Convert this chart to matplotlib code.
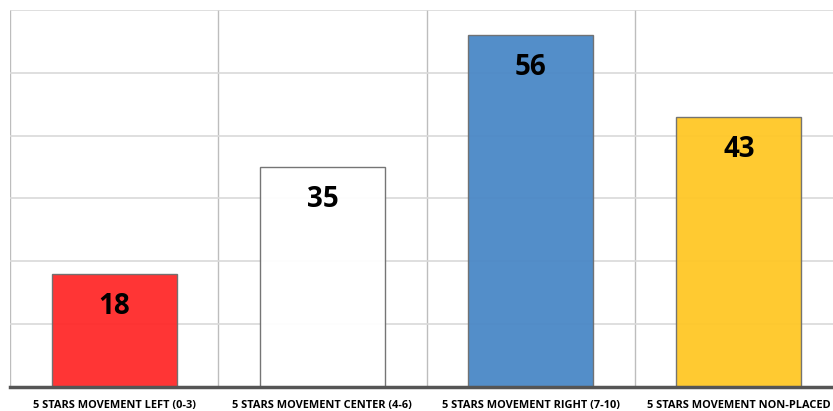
import matplotlib.pyplot as plt
import numpy as np

categories = ["5 STARS MOVEMENT LEFT (0-3)", "5 STARS MOVEMENT CENTER (4-6)",
              "5 STARS MOVEMENT RIGHT (7-10)", "5 STARS MOVEMENT NON-PLACED"]
values = [18, 35, 56, 43]
colors = ["#ff2a2a", "#ffffff", "#4a88c6", "#ffc726"]

plt.rcParams['font.family'] = ['Open Sans', 'DejaVu Sans']

fig = plt.figure(figsize=(8.33, 4.11), dpi=100)
ax = fig.add_axes([10 / 833, 24 / 411, 833 / 833, 377 / 411])

x = np.arange(len(categories))
bars = ax.bar(x, values, width=0.6, color=colors, alpha=0.95,
              edgecolor="#6e6e6e", linewidth=1.0, zorder=3)

for b, v in zip(bars, values):
    ax.text(b.get_x() + b.get_width() / 2, v - 5.2, str(v), ha='center', va='center',
            fontsize=20, fontweight='bold', color='black', zorder=4)

ax.set_xlim(-0.5, 3.5)
ax.set_ylim(0, 60)
ax.set_yticks(np.arange(0, 61, 10))
ax.set_yticklabels([])
ax.tick_params(axis='y', length=0)
ax.yaxis.grid(True, color="#d9d9d9", linewidth=1.2, zorder=0)

ax.set_xticks(x)
ax.set_xticklabels(categories, fontsize=7.9, fontweight='bold')
ax.tick_params(axis='x', length=0, pad=9)
ax.set_xticks(np.arange(-0.5, 4, 1), minor=True)
ax.tick_params(axis='x', which='minor', length=0)
ax.xaxis.grid(True, which='minor', color="#bdbdbd", linewidth=1.0, zorder=0)

for s in ['left', 'right', 'top']:
    ax.spines[s].set_visible(False)
ax.spines['bottom'].set_color("#555555")
ax.spines['bottom'].set_linewidth(2.5)
ax.spines['bottom'].set_zorder(5)

fig.savefig("out.png", dpi=100)
